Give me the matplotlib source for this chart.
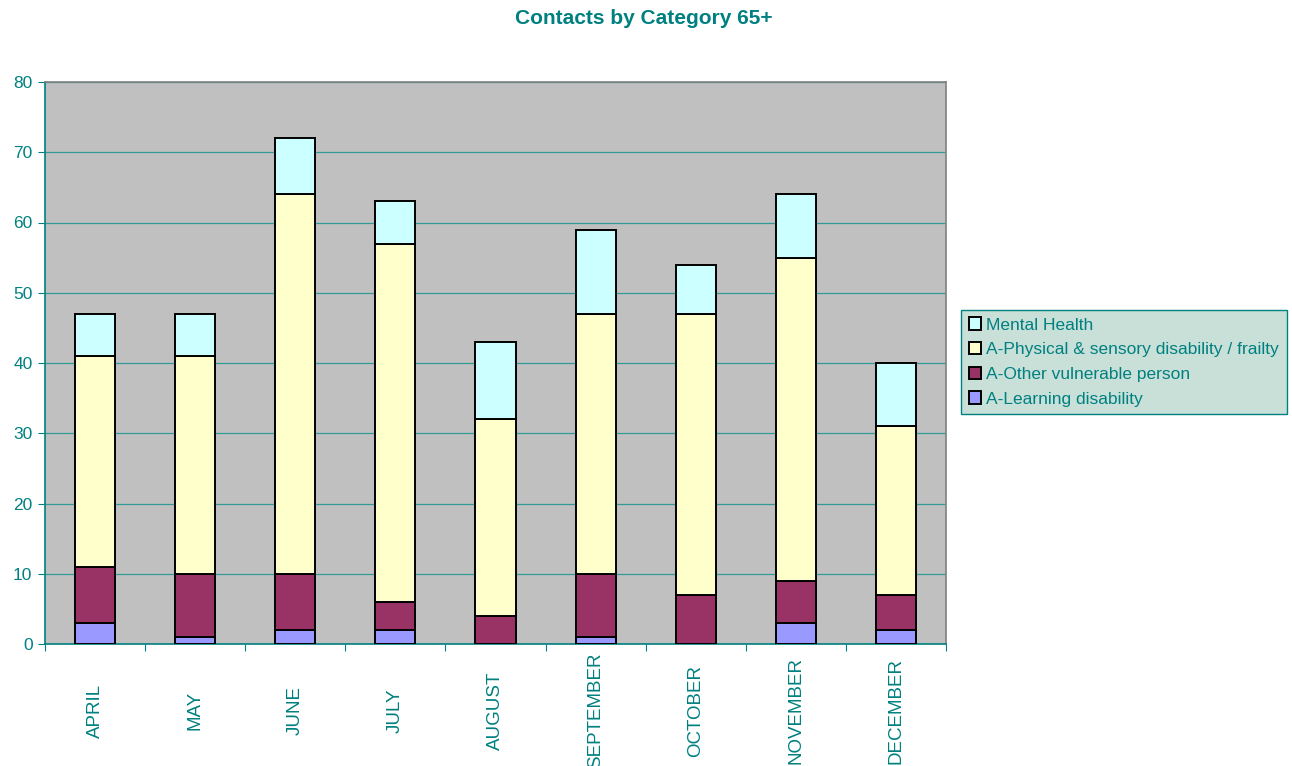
import matplotlib
matplotlib.use("Agg")
import matplotlib.pyplot as plt
import numpy as np

months = ["APRIL", "MAY", "JUNE", "JULY", "AUGUST", "SEPTEMBER", "OCTOBER", "NOVEMBER", "DECEMBER"]
learning = [3, 1, 2, 2, 0, 1, 0, 3, 2]
other_vulnerable = [8, 9, 8, 4, 4, 9, 7, 6, 5]
physical = [30, 31, 54, 51, 28, 37, 40, 46, 24]
mental_health = [6, 6, 8, 6, 11, 12, 7, 9, 9]

teal = "#008080"
plt.rcParams['font.family'] = ['Liberation Sans', 'DejaVu Sans']

fig = plt.figure(figsize=(12.92, 7.66), dpi=100)
ax = fig.add_axes([45 / 1292, 1 - 644 / 766, 901 / 1292, 562 / 766])
ax.set_facecolor("#C0C0C0")

x = np.arange(len(months))
w = 0.4
bottom = np.zeros(len(months))
series = [
    (learning, "#9999FF", "A-Learning disability"),
    (other_vulnerable, "#993366", "A-Other vulnerable person"),
    (physical, "#FFFFCC", "A-Physical & sensory disability / frailty"),
    (mental_health, "#CCFFFF", "Mental Health"),
]
handles = []
for vals, col, lab in series:
    b = ax.bar(x, vals, w, bottom=bottom, color=col, edgecolor="black", linewidth=1.4,
               label=lab, zorder=3)
    handles.append(b)
    bottom += np.array(vals)

ax.set_xlim(-0.5, len(months) - 0.5)
ax.set_ylim(0, 80)
ax.set_yticks(range(0, 81, 10))
ax.yaxis.grid(True, color="#339999", linewidth=0.9, zorder=1)
ax.set_axisbelow(True)

# ticks sit between categories, labels in the middle (centred vertically like Excel)
ax.set_xticks(np.arange(-0.5, len(months), 1.0))
ax.set_xticklabels([])
ax.set_xticks(x, minor=True)
ax.set_xticklabels(months, minor=True, rotation=90, color=teal, fontsize=13.5,
                   va="center", ha="center")
ax.tick_params(axis="x", which="minor", length=0, pad=48)
ax.tick_params(axis="x", which="major", length=5, color=teal, direction="out")
ax.tick_params(axis="y", length=5, color=teal, labelcolor=teal, labelsize=12.5, pad=4)

for s in ["left", "bottom"]:
    ax.spines[s].set_color(teal)
    ax.spines[s].set_linewidth(1.2)
for s in ["top", "right"]:
    ax.spines[s].set_color("#808080")
    ax.spines[s].set_linewidth(1.2)

fig.text(644 / 1292, 1 - 18 / 766, "Contacts by Category 65+", ha="center", va="center",
         color=teal, fontsize=15, fontweight="bold")

leg = ax.legend(handles=handles[::-1], loc="center left",
                bbox_to_anchor=(961 / 1292, 1 - 362 / 766), bbox_transform=fig.transFigure,
                frameon=True, fancybox=False, fontsize=12.5, handlelength=0.7, handleheight=0.7,
                handletextpad=0.3, borderpad=0.45, labelspacing=0.55, borderaxespad=0)
leg.get_frame().set_facecolor("#C8E0D8")
leg.get_frame().set_edgecolor(teal)
leg.get_frame().set_alpha(1)
for t in leg.get_texts():
    t.set_color(teal)

fig.savefig("out.png", dpi=100)
